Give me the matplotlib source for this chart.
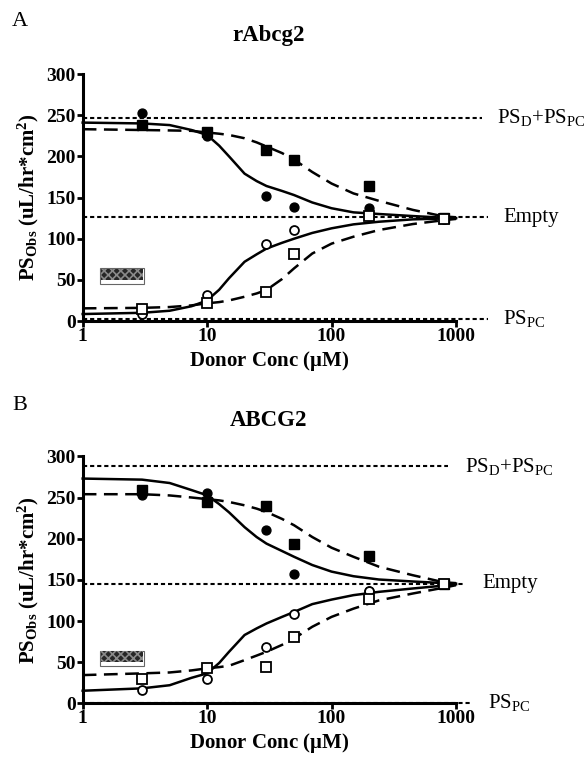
import numpy as np
import matplotlib
matplotlib.use("Agg")
import matplotlib.pyplot as plt
from matplotlib.patches import Rectangle

plt.rcParams['font.family'] = ['Liberation Serif', 'DejaVu Serif']
plt.rcParams['mathtext.fontset'] = 'custom'
plt.rcParams['mathtext.rm'] = 'Liberation Serif'
plt.rcParams['mathtext.it'] = 'Liberation Serif'
plt.rcParams['mathtext.bf'] = 'Liberation Serif:bold'
plt.rcParams['hatch.linewidth'] = 1.2

# measured donor concentrations (uM)
conc = [3, 10, 30, 50, 200, 800]

# panel A (rAbcg2) data points
a_fill_circ = [253, 225, 152, 139, 137, 125]
a_fill_sq = [238, 230, 208, 196, 164, 125]
a_open_circ = [8, 32, 94, 110, 128, 124]
a_open_sq = [15, 22, 35, 81, 127, 124]

# panel B (ABCG2) data points
b_fill_circ = [253, 255, 210, 157, 136, 145]
b_fill_sq = [259, 245, 240, 194, 179, 145]
b_open_circ = [16, 30, 68, 108, 137, 145]
b_open_sq = [30, 43, 44, 80, 127, 145]

# fitted curves
curve_x = [1, 3, 5, 7.5, 10, 12.5, 15, 20, 25, 30, 40, 50, 70, 100, 150, 240, 450, 800, 1000]
a_solid_up = [241, 240, 238, 232, 226, 213, 200, 179, 170, 164, 158, 153, 144, 137, 132, 130, 127.5, 125.5, 125]
a_dash_up = [233, 232, 231.5, 231, 229, 227.5, 226, 222, 217, 212, 204, 196, 181, 167, 155, 146, 135, 127, 126]
a_solid_lo = [8.5, 10, 12.5, 18, 25, 38, 52, 72, 81, 88, 95, 100, 107, 112.6, 117.4, 120.6, 123.5, 124.5, 125]
a_dash_lo = [15.4, 16, 17, 19, 21.5, 23, 25, 29.5, 33.5, 37.7, 51, 64, 82, 94, 102.4, 110.5, 117.8, 122.5, 124]

b_solid_up = [273, 271.7, 267.6, 259, 252.7, 242, 232, 214, 202, 194, 185, 178, 168, 160, 154.4, 150.4, 148, 146, 145.5]
b_dash_up = [254, 254, 252.5, 250, 248, 246.5, 244.6, 240.5, 236.5, 232.4, 224, 216.3, 202, 189, 178, 166, 155.6, 147, 146]
b_solid_lo = [15.3, 18.2, 22, 31, 36.4, 49, 62.6, 83, 91, 97, 105, 111, 120.5, 126, 131.4, 135.4, 139.5, 143, 144.5]
b_dash_lo = [34.3, 36.4, 37.5, 40, 42.5, 44, 45.6, 52.5, 58, 62.6, 71, 78.8, 93, 105, 115, 125, 133.4, 140.5, 143.5]

# reference levels: PS_D+PS_PC, Empty, PS_PC and how far right each dotted line runs
a_refs = [247, 126, 3]
a_ref_end = [1620, 1800, 1800]
b_refs = [288, 145.5, 1]
b_ref_end = [865, 1180, 1320]
ref_labels = [r'PS$_{\mathrm{D}}$+PS$_{\mathrm{PC}}$', 'Empty', r'PS$_{\mathrm{PC}}$']

fig = plt.figure(figsize=(5.86, 7.64), dpi=100)
axA = fig.add_axes([0.1411, 0.5798, 0.637, 0.3233])
axB = fig.add_axes([0.1411, 0.0794, 0.637, 0.3233])

dot = dict(color='black', lw=1.5, dashes=(2, 1.4), clip_on=False, zorder=1)


def draw_panel(ax, su, du, sl, dl, fc, fs, oc, osq, refs, ref_end, label_x):
    for lev, xe in zip(refs, ref_end):
        ax.plot([1, xe], [lev, lev], **dot)
    ax.plot(curve_x, su, color='black', lw=1.8, zorder=3, clip_on=False)
    ax.plot(curve_x, sl, color='black', lw=1.8, zorder=3, clip_on=False)
    ax.plot(curve_x, du, color='black', lw=1.8, dashes=(5.5, 3), zorder=3, clip_on=False)
    ax.plot(curve_x, dl, color='black', lw=1.8, dashes=(5.5, 3), zorder=3, clip_on=False)
    ax.plot(conc, fc, 'o', color='black', ms=6.4, zorder=4, clip_on=False)
    ax.plot(conc, fs, 's', color='black', ms=6.6, zorder=4, clip_on=False)
    ax.plot(conc, oc, 'o', mfc='white', mec='black', mew=1.3, ms=6.4, zorder=5, clip_on=False)
    ax.plot(conc, osq, 's', mfc='white', mec='black', mew=1.3, ms=6.6, zorder=5, clip_on=False)

    # empty legend box left in the original
    ax.add_patch(Rectangle((1.38, 45), 3.1 - 1.38, 19, facecolor='white',
                           edgecolor='#666666', lw=0.8, zorder=2))
    ax.add_patch(Rectangle((1.40, 50), 3.08 - 1.40, 13, facecolor='#262626',
                           edgecolor='#8a8a8a', hatch='xxxx', lw=0, zorder=2))

    for lev, lab, lx in zip(refs, ref_labels, label_x):
        ax.text(lx, lev, lab, fontsize=15, va='center', ha='left', clip_on=False)

    ax.set_xscale('log')
    ax.set_xlim(1, 1000)
    ax.set_ylim(0, 300)
    ax.set_xticks([1, 10, 100, 1000])
    ax.set_xticklabels(['1', '10', '100', '1000'])
    ax.xaxis.set_minor_locator(matplotlib.ticker.NullLocator())
    ax.set_yticks(range(0, 301, 50))
    for s in ['top', 'right']:
        ax.spines[s].set_visible(False)
    for s in ['left', 'bottom']:
        ax.spines[s].set_linewidth(2.2)
    ax.tick_params(direction='out', length=4, width=2, labelsize=14, pad=1)
    for t in ax.get_xticklabels() + ax.get_yticklabels():
        t.set_fontweight('bold')
    ax.set_xlabel(r'Donor Conc ($\mathbf{\mu}$M)', fontsize=15, fontweight='bold', labelpad=3)
    ax.set_ylabel(r'$\mathbf{PS_{Obs}}$ (uL/hr*cm$^{\mathbf{2}}$)', fontsize=15,
                  fontweight='bold', labelpad=4)


draw_panel(axA, a_solid_up, a_dash_up, a_solid_lo, a_dash_lo,
           a_fill_circ, a_fill_sq, a_open_circ, a_open_sq, a_refs, a_ref_end,
           [2140, 2390, 2390])
draw_panel(axB, b_solid_up, b_dash_up, b_solid_lo, b_dash_lo,
           b_fill_circ, b_fill_sq, b_open_circ, b_open_sq, b_refs, b_ref_end,
           [1183, 1620, 1810])

fig.text(269 / 586, 1 - 36 / 764, 'rAbcg2', fontsize=16.5, fontweight='bold', ha='center', va='center')
fig.text(269 / 586, 1 - 420 / 764, 'ABCG2', fontsize=16.5, fontweight='bold', ha='center', va='center')
fig.text(12 / 586, 1 - 22 / 764, 'A', fontsize=16, ha='left', va='center')
fig.text(12 / 586, 1 - 405 / 764, 'B', fontsize=16, ha='left', va='center')

fig.savefig('out.png', dpi=100)
